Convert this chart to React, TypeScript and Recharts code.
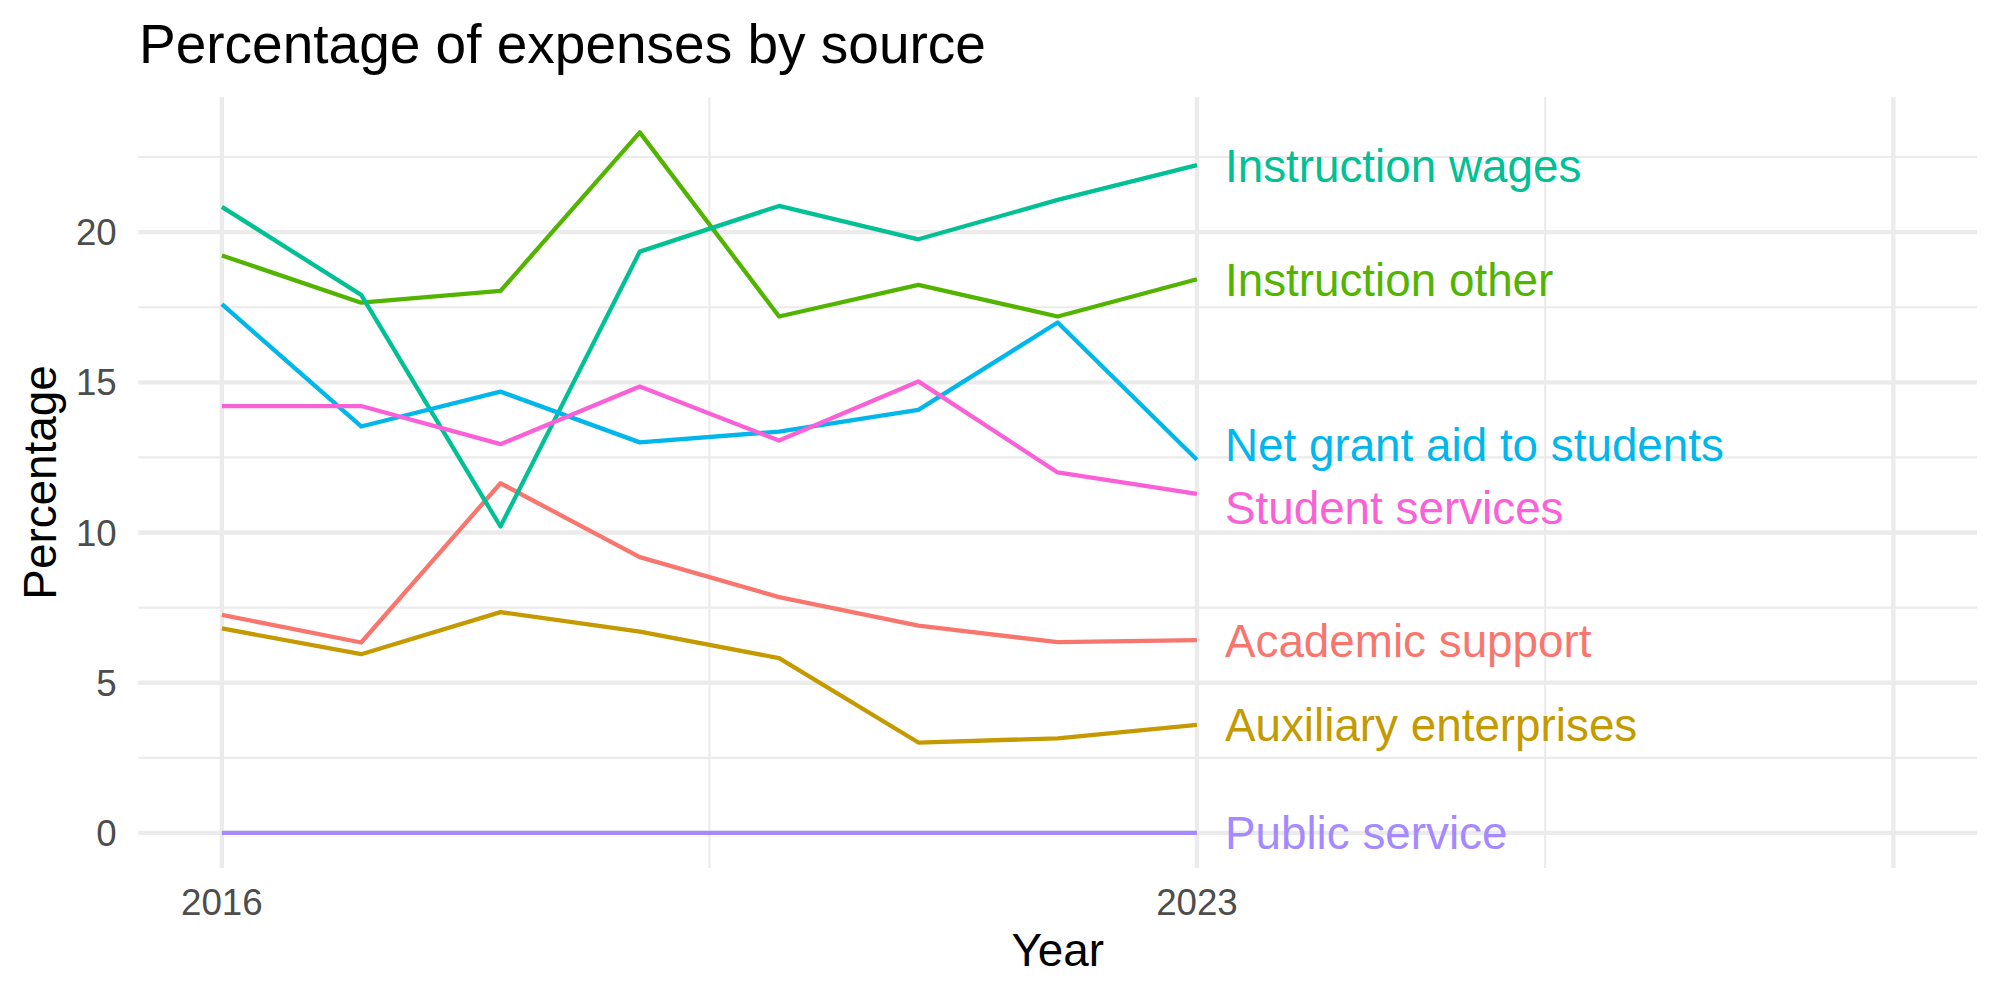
import { CartesianGrid, ComposedChart, Line, Scatter, XAxis, YAxis } from 'recharts';

const FONT = '"Liberation Sans", Arial, Helvetica, sans-serif';

const years = [2016, 2017, 2018, 2019, 2020, 2021, 2022, 2023];

const academicSupport = [7.26, 6.34, 11.64, 9.18, 7.85, 6.9, 6.35, 6.42];
const auxiliaryEnterprises = [6.81, 5.95, 7.35, 6.7, 5.82, 3.01, 3.15, 3.6];
const instructionOther = [19.22, 17.65, 18.04, 23.32, 17.19, 18.24, 17.19, 18.43];
const instructionWages = [20.84, 17.91, 10.2, 19.35, 20.87, 19.76, 21.07, 22.23];
const netGrantAid = [17.6, 13.53, 14.69, 13.0, 13.36, 14.08, 16.99, 12.42];
const publicService = [0, 0, 0, 0, 0, 0, 0, 0];
const studentServices = [14.21, 14.21, 12.94, 14.86, 13.06, 15.03, 12.0, 11.29];

const seriesNames = [
  'Academic support',
  'Auxiliary enterprises',
  'Instruction other',
  'Instruction wages',
  'Net grant aid to students',
  'Public service',
  'Student services',
];
const seriesKeys = ['academic', 'auxiliary', 'instrOther', 'instrWages', 'netGrant', 'publicSvc', 'studentSvc'];
const seriesColors = ['#F8766D', '#C49A00', '#53B400', '#00C094', '#00B6EB', '#A58AFF', '#FB61D7'];
const seriesValues = [
  academicSupport,
  auxiliaryEnterprises,
  instructionOther,
  instructionWages,
  netGrantAid,
  publicService,
  studentServices,
];

// end labels, pushed apart where they would collide
const labelValues = [6.42, 3.6, 18.43, 22.23, 12.93, 0, 10.82];

const xTicks = [2016, 2023];
const yTicks = [0, 5, 10, 15, 20];
const xMajor = [2016, 2023, 2028];
const xMinor = [2019.5, 2025.5];
const yMajor = [0, 5, 10, 15, 20];
const yMinor = [2.5, 7.5, 12.5, 17.5, 22.5];

const rows = years.map((year, i) => {
  const row: Record<string, number> = { year };
  seriesKeys.forEach((key, s) => {
    row[key] = seriesValues[s][i];
  });
  return row;
});

const labelPoints = seriesNames.map((name, s) => ({
  year: years[years.length - 1],
  pos: labelValues[s],
  name,
  color: seriesColors[s],
}));

const EndLabel = (props: any) => {
  const { cx, cy, payload } = props;
  return (
    <text
      x={cx + 28}
      y={cy}
      dy="0.36em"
      fill={payload.color}
      fontSize={45.8}
      fontFamily={FONT}
      textAnchor="start"
    >
      {payload.name}
    </text>
  );
};

const App = () => (
  <div style={{ position: 'absolute', left: 0, top: 0, width: 2000, height: 1000, background: '#fff' }}>
    <ComposedChart
      width={2000}
      height={1000}
      data={rows}
      margin={{ top: 97.3, right: 23, bottom: 0, left: 0 }}
    >
      <CartesianGrid
        stroke="#EBEBEB"
        strokeWidth={2.1}
        horizontalValues={yMinor}
        verticalValues={xMinor}
      />
      <CartesianGrid
        stroke="#EBEBEB"
        strokeWidth={4.3}
        horizontalValues={yMajor}
        verticalValues={xMajor}
      />
      <XAxis
        type="number"
        dataKey="year"
        domain={[2015.4, 2028.6]}
        allowDataOverflow
        ticks={xTicks}
        interval={0}
        height={132}
        tickLine={false}
        axisLine={false}
        tickSize={0}
        tickMargin={21}
        tick={{ fill: '#4D4D4D', fontSize: 36.7, fontFamily: FONT }}
      />
      <YAxis
        type="number"
        domain={[-1.166, 24.486]}
        allowDataOverflow
        ticks={yTicks}
        interval={0}
        width={138.3}
        tickLine={false}
        axisLine={false}
        tickSize={0}
        tickMargin={21.6}
        tick={{ fill: '#4D4D4D', fontSize: 36.7, fontFamily: FONT }}
      />
      {seriesKeys.map((key, s) => (
        <Line
          key={key}
          type="linear"
          dataKey={key}
          name={seriesNames[s]}
          stroke={seriesColors[s]}
          strokeWidth={4.3}
          strokeLinejoin="round"
          dot={false}
          activeDot={false}
          isAnimationActive={false}
        />
      ))}
      <Scatter
        data={labelPoints}
        dataKey="pos"
        shape={EndLabel}
        isAnimationActive={false}
      />
    </ComposedChart>
    <svg
      width={2000}
      height={1000}
      style={{ position: 'absolute', left: 0, top: 0, pointerEvents: 'none' }}
      fontFamily={FONT}
    >
      <text x={139} y={62.7} fontSize={55} fill="#000">
        Percentage of expenses by source
      </text>
      <text x={1057.7} y={966} fontSize={45.8} fill="#000" textAnchor="middle">
        Year
      </text>
      <text
        x={56}
        y={482.5}
        fontSize={45.8}
        fill="#000"
        textAnchor="middle"
        transform="rotate(-90 56 482.5)"
      >
        Percentage
      </text>
    </svg>
  </div>
);

export default App;
